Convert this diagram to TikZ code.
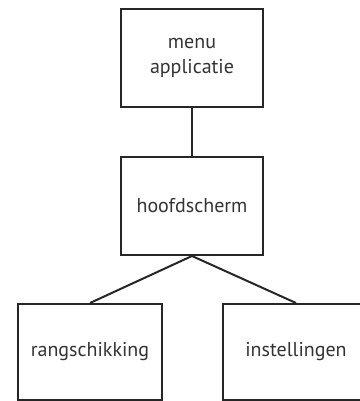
\documentclass[tikz,border=0pt]{standalone}
\usepackage{fontspec}
\setmainfont{PT Sans}
\begin{document}
\begin{tikzpicture}[x=1pt,y=-1pt,
  box/.style={draw=black!85,line width=2pt,minimum width=142pt,anchor=north west,inner sep=0pt,align=center,font=\fontsize{20}{25}\selectfont,text=black!80},
  link/.style={draw=black!85,line width=2pt}]
\useasboundingbox (0,0) rectangle (359,401);
\node[box,minimum height=98pt] (menu) at (120,8) {menu\\applicatie};
\node[box,minimum height=98pt] (hoofd) at (120,156) {hoofdscherm};
\node[box,minimum width=144pt,minimum height=96pt] (rang) at (17,303) {rangschikking};
\node[box,minimum width=146pt,minimum height=96pt] (inst) at (222,303) {instellingen};
\draw[link] (menu.south) -- (hoofd.north);
\draw[link] (hoofd.south) -- (rang.north);
\draw[link] (hoofd.south) -- (inst.north);
\end{tikzpicture}
\end{document}
